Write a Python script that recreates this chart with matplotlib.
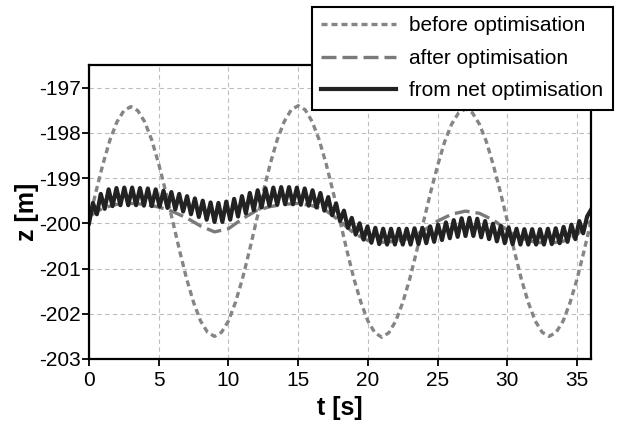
import numpy as np
import matplotlib
matplotlib.use('Agg')
import matplotlib.pyplot as plt

plt.rcParams['font.family'] = ['Liberation Sans', 'DejaVu Sans']
plt.rcParams['axes.unicode_minus'] = False

# before optimisation, sampled every 0.5 s
t_before = np.arange(0, 36.01, 0.5)
z_before = [
    -199.95, -199.30, -198.69, -198.16, -197.76, -197.51, -197.42, -197.51, -197.76, -198.16, -198.69, -199.30,
    -199.95, -200.61, -201.23, -201.75, -202.16, -202.41, -202.50, -202.41, -202.16, -201.75, -201.23, -200.61,
    -199.95, -199.30, -198.68, -198.15, -197.75, -197.49, -197.40, -197.49, -197.75, -198.15, -198.68, -199.30,
    -199.95, -200.61, -201.23, -201.75, -202.16, -202.42, -202.52, -202.42, -202.16, -201.75, -201.23, -200.61,
    -199.95, -199.31, -198.72, -198.20, -197.81, -197.56, -197.47, -197.56, -197.81, -198.20, -198.72, -199.31,
    -199.95, -200.61, -201.23, -201.75, -202.16, -202.41, -202.50, -202.41, -202.16, -201.75, -201.23, -200.61,
    -199.95,
]

# after optimisation, sampled every 1 s
t_after = np.arange(0, 37, 1.0)
z_after = [
    -199.85, -199.66, -199.58, -199.56, -199.58, -199.64, -199.74, -199.88, -200.06, -200.19,
    -200.12, -199.90, -199.72, -199.63, -199.58, -199.56, -199.61, -199.72, -199.95, -200.22,
    -200.38, -200.42, -200.40, -200.33, -200.16, -199.95, -199.80, -199.73, -199.78, -199.93,
    -200.15, -200.33, -200.42, -200.44, -200.40, -200.25, -199.95,
]

# from net optimisation: alternating troughs / peaks
t_net = np.linspace(0, 36, 129)
z_net = [
    -200.00, -199.55, -199.80, -199.35, -199.68, -199.25, -199.62, -199.22, -199.60, -199.21,
    -199.60, -199.21, -199.60, -199.22, -199.61, -199.23, -199.62, -199.25, -199.63, -199.28,
    -199.66, -199.31, -199.69, -199.35, -199.74, -199.40, -199.80, -199.45, -199.86, -199.50,
    -199.92, -199.54, -199.97, -199.55, -199.97, -199.52, -199.92, -199.46, -199.85, -199.40,
    -199.78, -199.33, -199.71, -199.27, -199.65, -199.23, -199.61, -199.21, -199.59, -199.20,
    -199.58, -199.20, -199.58, -199.21, -199.59, -199.23, -199.61, -199.27, -199.65, -199.33,
    -199.72, -199.42, -199.82, -199.56, -199.95, -199.72, -200.10, -199.88, -200.25, -200.00,
    -200.36, -200.07, -200.43, -200.10, -200.46, -200.12, -200.47, -200.12, -200.47, -200.12,
    -200.47, -200.12, -200.47, -200.11, -200.46, -200.10, -200.44, -200.07, -200.41, -200.03,
    -200.37, -199.98, -200.33, -199.93, -200.30, -199.89, -200.28, -199.88, -200.28, -199.90,
    -200.31, -199.95, -200.35, -200.01, -200.40, -200.06, -200.44, -200.10, -200.46, -200.12,
    -200.47, -200.13, -200.47, -200.13, -200.47, -200.13, -200.47, -200.12, -200.46, -200.11,
    -200.44, -200.08, -200.41, -200.03, -200.35, -199.95, -200.22, -199.85, -199.70,
]

fig = plt.figure(figsize=(6.22, 4.29), dpi=100)
ax = fig.add_axes([0.1431, 0.1632, 0.8071, 0.6853])

ax.plot(t_before, z_before, color='#858585', lw=2.4, dashes=(1.8, 1.2), label='before optimisation')
ax.plot(t_after, z_after, color='#7a7a7a', lw=2.4, dashes=(4.5, 1.8), label='after optimisation')
ax.plot(t_net, z_net, color='#222222', lw=3.0, label='from net optimisation')

ax.set_xlim(0, 36)
ax.set_ylim(-203, -196.5)
ax.set_xticks([0, 5, 10, 15, 20, 25, 30, 35])
ax.set_yticks([-203, -202, -201, -200, -199, -198, -197])
ax.grid(True, color='#bdbdbd', ls=(0, (4, 3)), lw=0.8)
ax.set_axisbelow(True)
ax.tick_params(labelsize=15, length=5, width=1.3, direction='out', pad=1)
ax.tick_params(axis='x', pad=4)
for s in ax.spines.values():
    s.set_linewidth(1.6)

ax.set_xlabel('t [s]', fontsize=18, fontweight='bold', labelpad=4)
ax.set_ylabel('z [m]', fontsize=18, fontweight='bold', labelpad=0)

leg = fig.legend(loc='upper right', bbox_to_anchor=(0.9855, 0.9837), borderaxespad=0,
                 fontsize=15, handlelength=3.6, frameon=True, fancybox=False, framealpha=1,
                 edgecolor='black', borderpad=0.45, labelspacing=0.65, handletextpad=0.65)
leg.get_frame().set_linewidth(1.5)

fig.savefig('out.png', dpi=100)
